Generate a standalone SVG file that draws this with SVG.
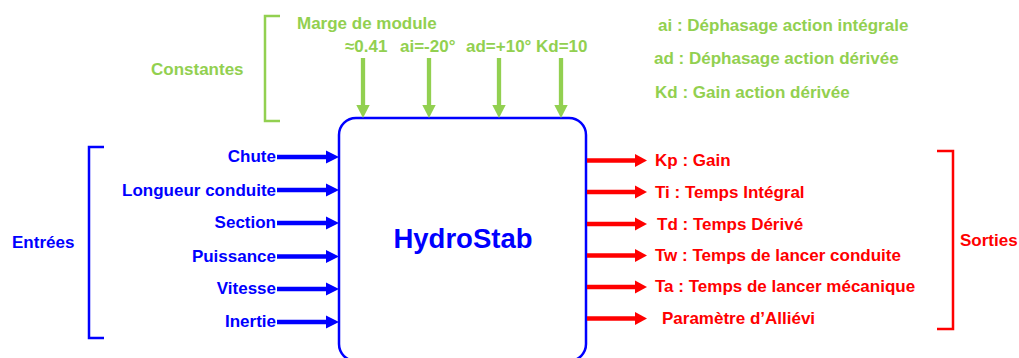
<svg xmlns="http://www.w3.org/2000/svg" width="1019" height="358" viewBox="0 0 1019 358">
<defs>
<style>
text{font-family:"Liberation Sans",Arial,sans-serif;font-weight:bold;font-size:17px}
.g{fill:#92D050}.b{fill:#0000FF}.r{fill:#FF0000}
.end{text-anchor:end}.mid{text-anchor:middle}
.br{fill:none;stroke-width:2.5}
.ai{stroke:#0000FF;stroke-width:4.5;fill:none;marker-end:url(#hb)}
.ao{stroke:#FF0000;stroke-width:4.5;fill:none;marker-end:url(#hr)}
.ac{stroke:#92D050;stroke-width:4.3;fill:none;marker-end:url(#hg)}
</style>
<marker id="hb" markerUnits="userSpaceOnUse" markerWidth="14" markerHeight="14" refX="0" refY="6.5" orient="auto" overflow="visible"><path d="M0,0L13,6.5L0,13z" fill="#0000FF"/></marker>
<marker id="hr" markerUnits="userSpaceOnUse" markerWidth="14" markerHeight="14" refX="0" refY="6.5" orient="auto" overflow="visible"><path d="M0,0L12,6.5L0,13z" fill="#FF0000"/></marker>
<marker id="hg" markerUnits="userSpaceOnUse" markerWidth="14" markerHeight="14" refX="0" refY="6.7" orient="auto" overflow="visible"><path d="M0,0L13,6.7L0,13.4z" fill="#92D050"/></marker>
</defs>
<rect width="1019" height="358" fill="#FFFFFF"/>

<g id="constantes">
<path class="br" stroke="#92D050" d="M280,16H265V121H280"/>
<text class="g" x="151" y="75">Constantes</text>
<text class="g" x="297" y="29">Marge de module</text>
<text class="g" x="345" y="52">≈0.41</text>
<text class="g" x="400" y="52">ai=-20°</text>
<text class="g" x="466" y="52">ad=+10°</text>
<text class="g" x="536" y="52">Kd=10</text>
</g>

<g id="legende">
<text class="g" x="658" y="31">ai : Déphasage action intégrale</text>
<text class="g" x="654" y="64">ad : Déphasage action dérivée</text>
<text class="g" x="655" y="98">Kd : Gain action dérivée</text>
</g>

<g id="hydrostab">
<rect x="339" y="118" width="247" height="243" rx="17" ry="17" fill="#FFFFFF" stroke="#0000FF" stroke-width="2.5"/>
<text class="b mid" x="463" y="248" style="font-size:27.5px">HydroStab</text>
</g>

<g id="entrees">
<path class="br" stroke="#0000FF" d="M104,147H89V338H104"/>
<text class="b" x="12" y="248">Entrées</text>
<text class="b end" x="276" y="162">Chute</text>
<text class="b end" x="276" y="196">Longueur conduite</text>
<text class="b end" x="276" y="228">Section</text>
<text class="b end" x="276" y="262">Puissance</text>
<text class="b end" x="276" y="294">Vitesse</text>
<text class="b end" x="276" y="327">Inertie</text>
</g>

<g id="sorties">
<path class="br" stroke="#FF0000" d="M937,151H953V329H937"/>
<text class="r" x="960" y="246">Sorties</text>
<text class="r" x="655" y="166">Kp : Gain</text>
<text class="r" x="655" y="198">Ti : Temps Intégral</text>
<text class="r" x="657" y="230">Td : Temps Dérivé</text>
<text class="r" x="655" y="261">Tw : Temps de lancer conduite</text>
<text class="r" x="655" y="292">Ta : Temps de lancer mécanique</text>
<text class="r" x="662" y="324">Paramètre d’Alliévi</text>
</g>

<g id="connecteurs">
<path class="ac" d="M363,58V105"/>
<path class="ac" d="M429,58V105"/>
<path class="ac" d="M499,58V105"/>
<path class="ac" d="M561,58V105"/>
<path class="ai" d="M277,157H326"/>
<path class="ai" d="M277,190H326"/>
<path class="ai" d="M277,223H326"/>
<path class="ai" d="M277,256.5H326"/>
<path class="ai" d="M277,289H326"/>
<path class="ai" d="M277,322H326"/>
<path class="ao" d="M587,160.5H635"/>
<path class="ao" d="M587,192H635"/>
<path class="ao" d="M587,224H635"/>
<path class="ao" d="M587,255.5H635"/>
<path class="ao" d="M587,287H635"/>
<path class="ao" d="M587,318.5H635"/>
</g>
</svg>
